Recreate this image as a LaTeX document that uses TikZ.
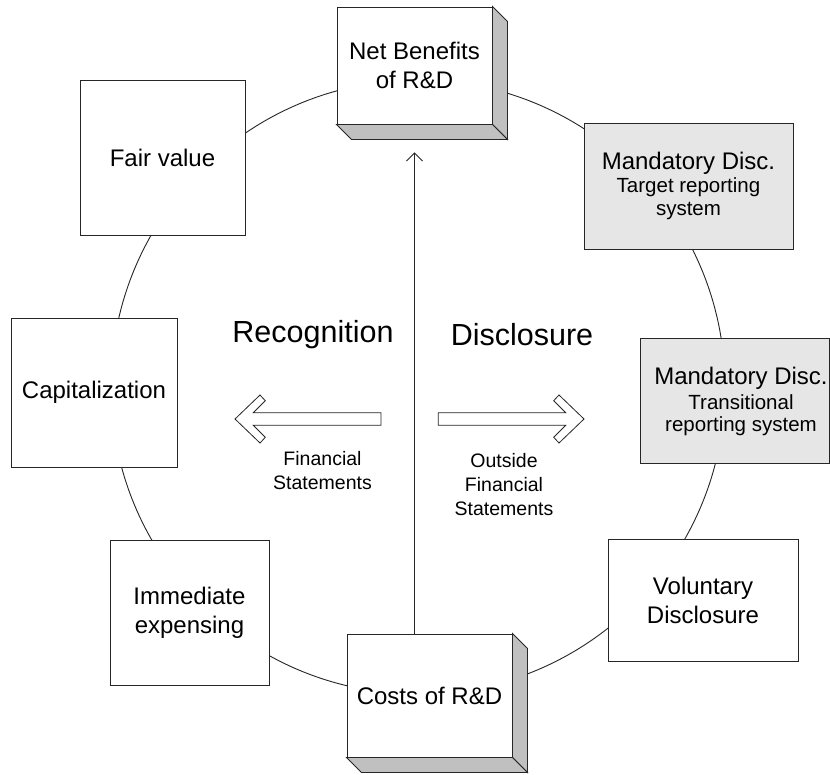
\documentclass[tikz,border=0pt]{standalone}
\usepackage{fontspec}
\setmainfont{Liberation Sans}
\usetikzlibrary{arrows.meta,calc}
\definecolor{sidegray}{HTML}{C0C0C0}
\definecolor{mandgray}{HTML}{E6E6E6}
\definecolor{linegray}{HTML}{262626}
\newcommand{\subfont}{\fontsize{20.5}{23}\selectfont}
\begin{document}
\begin{tikzpicture}[x=1pt,y=-1pt,line width=0.9pt,
  box/.style={draw=linegray,fill=white,rectangle,inner sep=0pt,align=center,
    font=\fontsize{24}{29}\selectfont},
  mand/.style={box,fill=mandgray},
  side/.style={draw=linegray,fill=sidegray,line join=miter},
  bigtext/.style={font=\fontsize{30.5}{34}\selectfont,inner sep=0pt},
  smalltext/.style={font=\fontsize{19.5}{24}\selectfont,align=center,inner sep=0pt},
  blockarrow/.style={draw=linegray,fill=white,line width=0.8pt,line join=miter}]
\useasboundingbox (0,0) rectangle (830,774);
\fill[white] (0,0) rectangle (830,774);

% ring
\coordinate (ctr) at (418,387);
\draw[linegray] (ctr) circle[radius=307pt];

% 3D boxes
\node[box,minimum width=155pt,minimum height=117pt] (net) at (414.5,65.5) {Net Benefits\\of R\&D};
\draw[side] (net.north east) -- ++(15,15) -- ($(net.south east)+(15,15)$) -- (net.south east) -- cycle;
\draw[side] (net.south west) -- ++(15,15) -- ($(net.south east)+(15,15)$) -- (net.south east) -- cycle;

\node[box,minimum width=165pt,minimum height=123pt] (costs) at (429.5,695.5) {Costs of R\&D};
\draw[side] (costs.north east) -- ++(15,15) -- ($(costs.south east)+(15,15)$) -- (costs.south east) -- cycle;
\draw[side] (costs.south west) -- ++(15,15) -- ($(costs.south east)+(15,15)$) -- (costs.south east) -- cycle;

% plain boxes
\node[box,minimum width=165pt,minimum height=155pt] (fair) at (162.5,157.5) {Fair value};
\node[box,minimum width=166pt,minimum height=149pt] (cap) at (94,392.5) {Capitalization};
\node[box,minimum width=159pt,minimum height=145pt] (imm) at (189.5,612.5) {Immediate\\expensing};
\node[box,minimum width=190pt,minimum height=122pt] (vol) at (703,600) {Voluntary\\Disclosure};

% mandatory boxes
\node[mand,minimum width=209pt,minimum height=126pt] (target) at (688.5,186)
  {Mandatory Disc.\\[-6pt]\subfont Target reporting\\[-6pt]\subfont system};
\node[mand,minimum width=189pt,minimum height=125pt] (trans) at (734.5,400.5) {};
\node[align=center,inner sep=0pt,font=\fontsize{24}{29}\selectfont] (transtext) at (741,401)
  {Mandatory Disc.\\[-4pt]\subfont Transitional\\[-7pt]\subfont reporting system};

% vertical arrow
\draw[linegray,-{Straight Barb[length=8pt,width=16pt]}] (costs.north -| net.south) -- ($(net.south)+(0,28)$);

% labels
\node[bigtext] (recog) at (313,335) {Recognition};
\node[bigtext] (discl) at (522,335) {Disclosure};
\node[smalltext] (fs) at (322.5,470.5) {Financial\\Statements};
\node[smalltext] (ofs) at (504,485) {Outside\\Financial\\Statements};

% block arrows
\draw[blockarrow] (381,412.7) -- (253.3,412.7) -- (265.3,400.7) -- (260,395) -- (235,419)
  -- (260,443) -- (265.3,437.3) -- (253.3,425.3) -- (381,425.3) -- cycle;
\draw[blockarrow] (438.3,412.7) -- (565.7,412.7) -- (553.7,400.7) -- (559,395) -- (584,419)
  -- (559,443) -- (553.7,437.3) -- (565.7,425.3) -- (438.3,425.3) -- cycle;
\end{tikzpicture}
\end{document}
